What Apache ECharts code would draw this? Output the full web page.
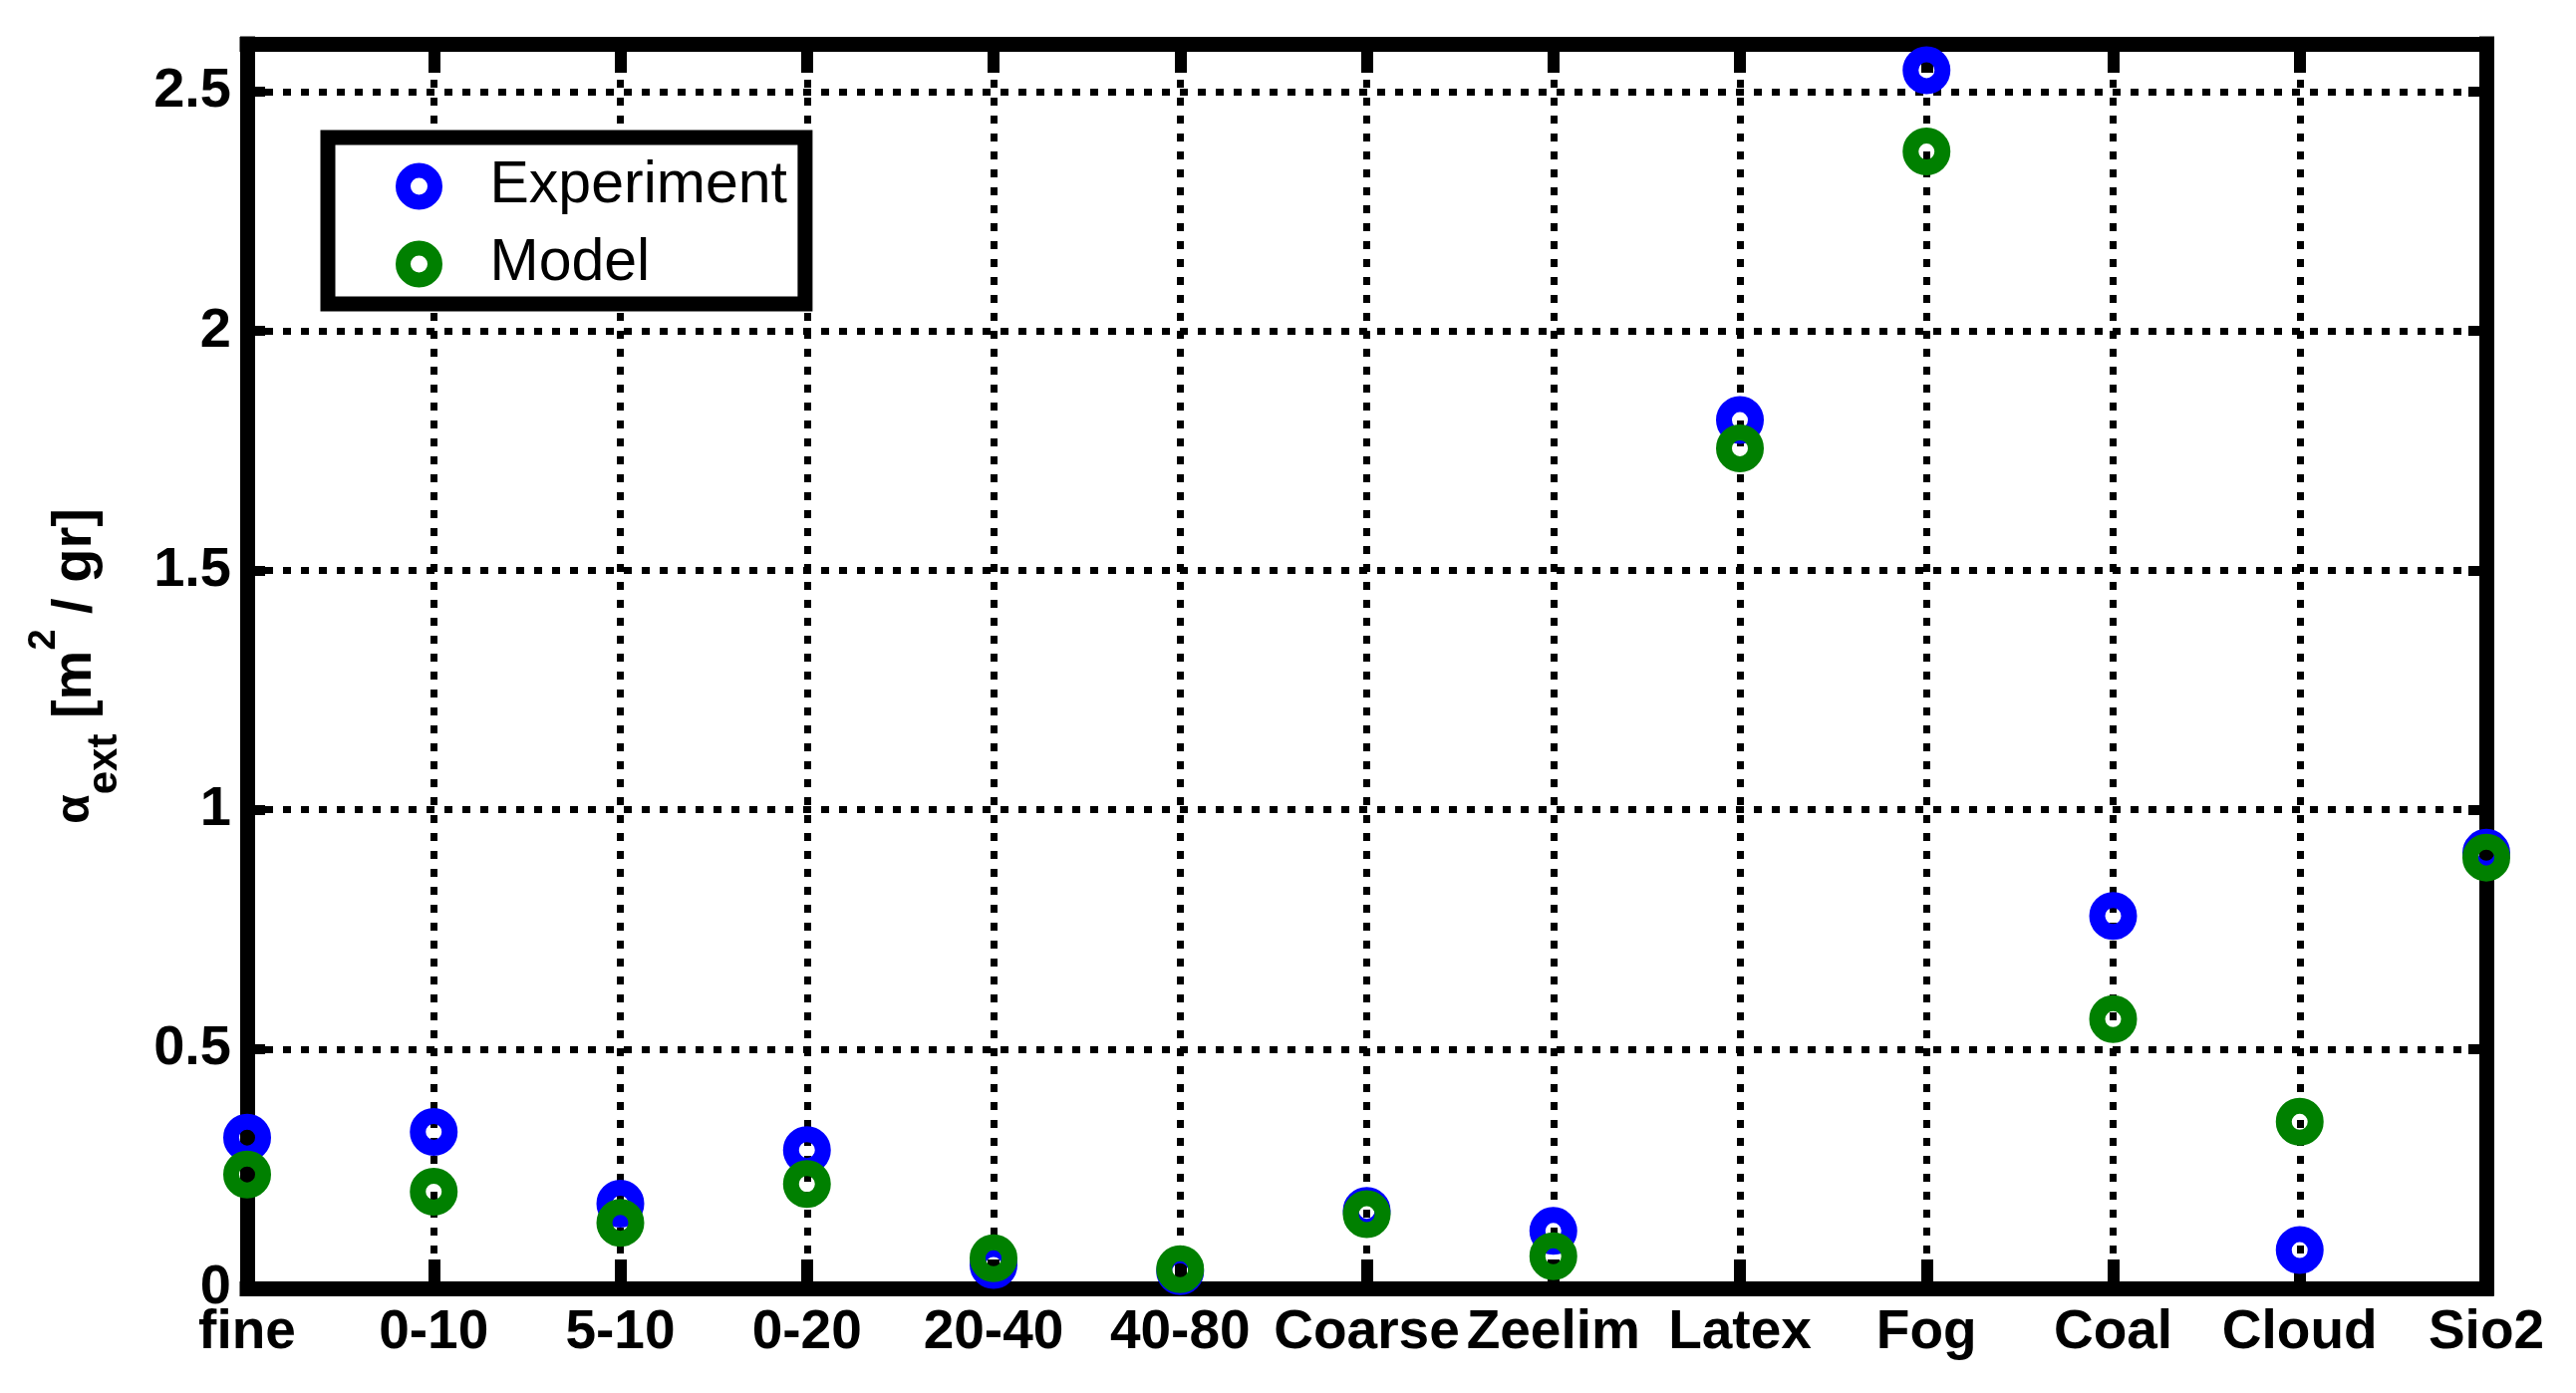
<!DOCTYPE html>
<html>
<head>
<meta charset="utf-8">
<script src="https://cdn.jsdelivr.net/npm/echarts@6/dist/echarts.min.js"></script>
<style>
  html, body { margin: 0; padding: 0; background: #fff; }
  #chart { width: 2585px; height: 1398px; }
</style>
</head>
<body>
<div id="chart"></div>
<script>
// sample names along the x axis
const categories = ['fine', '0-10', '5-10', '0-20', '20-40', '40-80', 'Coarse', 'Zeelim', 'Latex', 'Fog', 'Coal', 'Cloud', 'Sio2'];
// measured extinction coefficient
const experiment = [0.315, 0.327, 0.177, 0.289, 0.049, 0.036, 0.162, 0.12, 1.814, 2.545, 0.778, 0.08, 0.91];
// model prediction
const model = [0.238, 0.202, 0.137, 0.218, 0.063, 0.04, 0.155, 0.067, 1.755, 2.375, 0.5625, 0.348, 0.90];
// y axis range
const yMin = 0;
const yMax = 2.6;
const yStep = 0.5;

const tickFont = "'Liberation Sans', Arial, sans-serif";
const dotted = { color: '#000', width: 7, type: [8, 10] };

const chart = echarts.init(document.getElementById('chart'));

function scatter(name, values, color) {
  return {
    name: name,
    type: 'scatter',
    data: values,
    symbol: 'circle',
    symbolSize: 32,
    clip: false,
    itemStyle: { color: 'transparent', borderColor: color, borderWidth: 16, opacity: 1 },
    emphasis: { disabled: true }
  };
}

chart.setOption({
  backgroundColor: '#fff',
  animation: false,
  grid: { left: 248, right: 90, top: 44, bottom: 105 },
  legend: {
    orient: 'vertical',
    left: 329,
    top: 138,
    padding: [19, 18, 10, 68],
    itemWidth: 32,
    itemHeight: 32,
    itemGap: 18,
    selectedMode: false,
    backgroundColor: '#fff',
    borderColor: '#000',
    borderWidth: 15,
    itemStyle: { borderWidth: 15 },
    textStyle: {
      fontFamily: "'Liberation Sans', Arial, sans-serif",
      fontSize: 59,
      lineHeight: 60,
      color: '#000',
      padding: [0, 0, 0, 50]
    },
    data: ['Experiment', 'Model']
  },
  xAxis: [{
    type: 'category',
    data: categories,
    boundaryGap: false,
    position: 'bottom',
    axisLine: { onZero: false, lineStyle: { color: '#000', width: 15, cap: 'square' } },
    axisTick: { inside: true, length: 29, interval: 0, lineStyle: { color: '#000', width: 12 } },
    axisLabel: {
      interval: 0, margin: 17, color: '#000',
      fontFamily: tickFont, fontWeight: 'bold', fontSize: 55
    },
    splitLine: { show: true, interval: 0, lineStyle: dotted }
  }, {
    type: 'category',
    data: categories,
    boundaryGap: false,
    position: 'top',
    axisLine: { onZero: false, lineStyle: { color: '#000', width: 15, cap: 'square' } },
    axisTick: { inside: true, length: 29, interval: 0, lineStyle: { color: '#000', width: 12 } },
    axisLabel: { show: false },
    splitLine: { show: false }
  }],
  yAxis: [{
    type: 'value',
    min: yMin,
    max: yMax,
    interval: yStep,
    position: 'left',
    axisLine: { show: true, onZero: false, lineStyle: { color: '#000', width: 15, cap: 'square' } },
    axisTick: { show: true, inside: true, length: 18, lineStyle: { color: '#000', width: 10 } },
    axisLabel: {
      showMaxLabel: false, margin: 16, color: '#000',
      fontFamily: tickFont, fontWeight: 'bold', fontSize: 56
    },
    splitLine: { show: true, lineStyle: dotted },
    name: '{a|α}{s|ext}{b| [m}{p|2}{b| / gr]}',
    nameLocation: 'middle',
    nameRotate: 90,
    nameGap: 122,
    nameTextStyle: {
      fontFamily: tickFont,
      fontWeight: 'bold',
      color: '#000',
      rich: {
        a: { fontFamily: tickFont, fontWeight: 'bold', fontSize: 48, lineHeight: 100, verticalAlign: 'middle', color: '#000' },
        b: { fontFamily: tickFont, fontWeight: 'bold', fontSize: 56, lineHeight: 100, verticalAlign: 'middle', color: '#000' },
        s: { fontFamily: tickFont, fontWeight: 'bold', fontSize: 42, lineHeight: 44, verticalAlign: 'bottom', color: '#000' },
        p: { fontFamily: tickFont, fontWeight: 'bold', fontSize: 38, lineHeight: 40, verticalAlign: 'top', color: '#000' }
      }
    }
  }, {
    type: 'value',
    min: yMin,
    max: yMax,
    interval: yStep,
    position: 'right',
    axisLine: { show: true, onZero: false, lineStyle: { color: '#000', width: 15, cap: 'square' } },
    axisTick: { show: true, inside: true, length: 18, lineStyle: { color: '#000', width: 10 } },
    axisLabel: { show: false },
    splitLine: { show: false }
  }],
  series: [
    scatter('Experiment', experiment, '#0000ff'),
    scatter('Model', model, '#008000')
  ]
});
</script>
</body>
</html>
